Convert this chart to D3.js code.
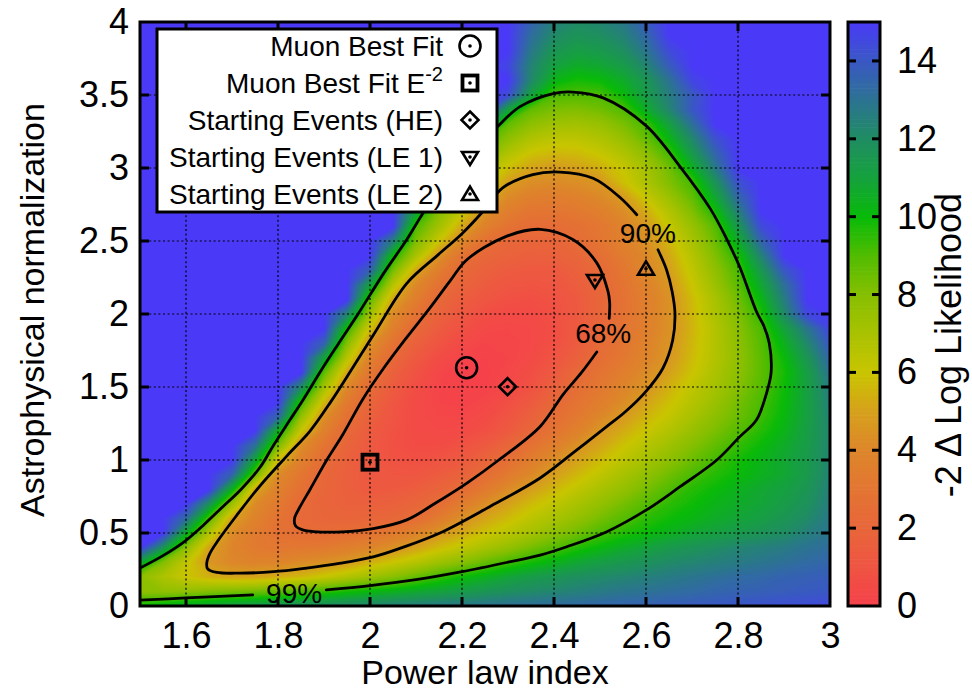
<!DOCTYPE html>
<html>
<head>
<meta charset="utf-8">
<script src="https://cdn.jsdelivr.net/npm/d3@7"></script>
<style>
  body { margin: 0; background: #fff; }
  svg { display: block; }
  text { font-family: "Liberation Sans", Arial, Helvetica, sans-serif; fill: #000; }
</style>
</head>
<body>
<svg id="chart" width="972" height="693"></svg>
<script>
// ---------------- data ----------------
const xTickValues = [1.6, 1.8, 2, 2.2, 2.4, 2.6, 2.8, 3];
const xTickLabels = ["1.6", "1.8", "2", "2.2", "2.4", "2.6", "2.8", "3"];
const yTickValues = [0, 0.5, 1, 1.5, 2, 2.5, 3, 3.5, 4];
const yTickLabels = ["0", "0.5", "1", "1.5", "2", "2.5", "3", "3.5", "4"];
const cbTickValues = [0, 2, 4, 6, 8, 10, 12, 14];
const cbTickLabels = ["0", "2", "4", "6", "8", "10", "12", "14"];

// grid of -2 Delta log likelihood (columns = power law index, rows = normalization, top row first)
const gridX = [1.50,1.55,1.60,1.65,1.70,1.75,1.80,1.85,1.90,1.95,2.00,2.05,2.10,2.15,2.20,2.25,2.30,2.35,2.40,2.45,2.50,2.55,2.60,2.65,2.70,2.75,2.80,2.85,2.90,2.95,3.00];
const gridY = [4.0,3.9,3.8,3.7,3.6,3.5,3.4,3.3,3.2,3.1,3.0,2.9,2.8,2.7,2.6,2.5,2.4,2.3,2.2,2.1,2.0,1.9,1.8,1.7,1.6,1.5,1.4,1.3,1.2,1.1,1.0,0.9,0.8,0.7,0.6,0.5,0.4,0.3,0.2,0.1,0.0];
const likelihoodRows = [
 [15,15,15,15,15,15,15,15,15,15,15,15,15,15,15,15,15,13.6,12.5,12.1,12.3,12.8,13.9,15,15,15,15,15,15,15,15],
 [15,15,15,15,15,15,15,15,15,15,15,15,15,15,15,15,15,13.2,12.1,11.7,11.9,12.4,13.4,14.9,15,15,15,15,15,15,15],
 [15,15,15,15,15,15,15,15,15,15,15,15,15,15,15,15,15,12.8,11.6,11.2,11.4,11.9,12.9,14.4,15,15,15,15,15,15,15],
 [15,15,15,15,15,15,15,15,15,15,15,15,15,15,15,15,14.6,12.4,11.1,10.6,10.8,11.3,12.3,13.8,15,15,15,15,15,15,15],
 [15,15,15,15,15,15,15,15,15,15,15,15,15,15,15,15,15,12.2,10.3,9.8,10.0,10.6,11.6,13.0,14.6,15,15,15,15,15,15],
 [15,15,15,15,15,15,15,15,15,15,15,15,15,15,15,15,14.4,11.1,9.1,9.0,9.1,10.0,11.3,12.6,13.9,15,15,15,15,15,15],
 [15,15,15,15,15,15,15,15,15,15,15,15,15,15,15,15,11.1,8.7,8.2,8.1,8.4,9.0,10.6,12.3,14.0,15,15,15,15,15,15],
 [15,15,15,15,15,15,15,15,15,15,15,15,15,15,15,12.1,8.7,7.8,7.3,7.2,7.5,8.2,9.2,11.1,13.1,15,15,15,15,15,15],
 [15,15,15,15,15,15,15,15,15,15,15,15,15,15,14.0,9.2,7.8,6.8,6.4,6.4,6.8,7.5,8.6,10.2,12.2,14.2,15,15,15,15,15],
 [15,15,15,15,15,15,15,15,15,15,15,15,15,15,11.1,8.1,6.8,5.9,5.6,5.7,6.1,6.8,7.8,9.2,11.4,13.5,15,15,15,15,15],
 [15,15,15,15,15,15,15,15,15,15,15,15,15,13.1,8.8,7.0,5.8,5.1,4.8,5.0,5.4,6.1,7.1,8.4,10.4,12.7,15,15,15,15,15],
 [15,15,15,15,15,15,15,15,15,15,15,15,15,10.4,8.0,6.5,4.9,4.3,4.2,4.3,4.6,5.8,6.9,8.1,9.2,11.7,14.2,15,15,15,15],
 [15,15,15,15,15,15,15,15,15,15,15,15,13.1,8.9,7.2,5.5,4.2,3.6,3.5,3.7,4.1,4.8,6.1,7.4,8.7,10.8,13.4,15,15,15,15],
 [15,15,15,15,15,15,15,15,15,15,15,15,11.0,8.0,6.2,4.5,3.5,3.0,3.0,3.2,3.6,4.2,5.3,6.7,8.1,9.8,12.5,15,15,15,15],
 [15,15,15,15,15,15,15,15,15,15,15,15,9.1,7.2,5.2,3.7,2.9,2.4,2.4,2.7,3.1,3.8,4.7,6.1,7.5,8.9,11.5,14.4,15,15,15],
 [15,15,15,15,15,15,15,15,15,15,15,12.6,8.2,6.0,4.1,2.8,2.1,2.0,2.0,2.4,3.0,3.7,4.4,5.6,7.0,8.5,10.6,13.5,15,15,15],
 [15,15,15,15,15,15,15,15,15,15,15,10.0,7.0,4.5,2.9,2.1,1.8,1.6,1.7,2.0,2.6,3.4,4.1,5.2,6.6,8.1,9.7,12.4,15,15,15],
 [15,15,15,15,15,15,15,15,15,15,13.7,8.3,5.2,3.5,2.2,1.7,1.4,1.3,1.3,1.7,2.3,3.1,4.0,4.9,6.3,7.7,9.1,11.5,14.0,15,15],
 [15,15,15,15,15,15,15,15,15,15,11.1,6.6,4.1,2.8,1.9,1.4,1.1,1.0,1.1,1.5,2.1,2.9,3.8,4.6,6.0,7.4,8.8,10.8,13.1,15,15],
 [15,15,15,15,15,15,15,15,15,15,8.8,5.1,3.5,2.2,1.5,1.1,0.8,0.7,0.9,1.3,2.0,2.8,3.6,4.4,5.7,7.0,8.4,10.2,12.6,15,15],
 [15,15,15,15,15,15,15,15,15,12.4,7.3,4.2,2.9,1.8,1.2,0.7,0.5,0.5,0.8,1.3,2.0,2.8,3.6,4.4,5.6,6.9,8.1,9.6,12.1,14.5,15],
 [15,15,15,15,15,15,15,15,15,9.7,5.8,3.6,2.2,1.4,0.8,0.4,0.3,0.4,0.7,1.3,2.0,2.9,3.6,4.4,5.5,6.7,7.9,9.1,11.0,12.9,14.6],
 [15,15,15,15,15,15,15,15,13.7,8.0,4.5,2.9,1.7,1.0,0.5,0.2,0.2,0.4,0.8,1.4,2.3,3.0,3.8,4.5,5.6,6.7,7.8,8.9,10.4,12.2,14.0],
 [15,15,15,15,15,15,15,15,11.1,6.6,3.8,2.2,1.3,0.6,0.2,0.1,0.2,0.5,1.0,1.7,2.5,3.2,3.9,4.6,5.7,6.7,7.7,8.8,10.0,11.6,13.5],
 [15,15,15,15,15,15,15,15,8.8,5.1,3.1,1.7,0.9,0.3,0.0,0.0,0.3,0.7,1.3,2.2,2.9,3.5,4.2,5.0,5.9,6.9,7.8,8.8,9.8,11.2,13.0],
 [15,15,15,15,15,15,15,12.2,7.2,4.1,2.4,1.4,0.7,0.2,0.1,0.1,0.4,0.9,1.7,2.5,3.2,3.9,4.5,5.4,6.3,7.1,8.0,8.9,9.9,11.1,12.7],
 [15,15,15,15,15,15,15,9.5,5.7,3.4,2.0,1.1,0.5,0.2,0.1,0.3,0.7,1.3,2.1,2.9,3.5,4.2,5.0,5.8,6.6,7.4,8.3,9.1,10.0,11.1,12.5],
 [15,15,15,15,15,15,13.6,7.7,4.4,2.8,1.7,1.0,0.5,0.3,0.3,0.5,1.0,1.7,2.5,3.2,4.0,4.7,5.5,6.2,7.0,7.8,8.5,9.3,10.1,11.1,12.4],
 [15,15,15,15,15,15,10.5,6.1,3.7,2.2,1.4,0.9,0.5,0.4,0.5,0.8,1.3,2.1,2.9,3.7,4.6,5.3,6.0,6.7,7.5,8.2,8.9,9.6,10.3,11.2,12.3],
 [15,15,15,15,15,13.1,8.3,4.3,3.0,1.9,1.3,0.8,0.6,0.6,0.9,1.3,2.0,2.8,3.6,4.4,5.1,5.9,6.6,7.3,8.0,8.7,9.4,10.0,10.6,11.3,12.3],
 [15,15,15,15,15,11.0,5.8,3.7,2.5,1.7,1.2,0.9,0.8,1.0,1.3,1.9,2.6,3.5,4.3,5.0,5.7,6.4,7.1,7.8,8.5,9.2,9.8,10.3,10.8,11.4,12.3],
 [15,15,15,15,13.6,8.6,4.2,3.1,2.1,1.6,1.2,1.1,1.1,1.4,1.8,2.5,3.3,4.1,4.9,5.6,6.3,7.0,7.7,8.4,9.1,9.6,10.0,10.4,10.8,11.4,12.4],
 [15,15,15,15,10.4,5.2,3.7,2.7,2.0,1.6,1.3,1.3,1.5,1.9,2.5,3.3,4.2,4.9,5.6,6.3,7.0,7.6,8.3,9.0,9.6,10.0,10.4,10.8,11.1,11.6,12.5],
 [15,15,15,11.9,7.4,4.2,3.3,2.3,1.9,1.7,1.6,1.7,2.0,2.5,3.4,4.3,5.0,5.7,6.3,7.0,7.6,8.3,8.9,9.5,9.9,10.3,10.6,10.9,11.3,11.8,12.6],
 [15,15,13.3,9.0,5.0,3.8,2.9,2.2,2.0,1.9,2.0,2.1,2.5,3.4,4.4,5.1,5.7,6.4,7.0,7.6,8.3,8.9,9.5,9.9,10.2,10.6,10.9,11.2,11.6,12.1,12.8],
 [15,15,10.7,6.8,4.2,3.4,2.8,2.5,2.4,2.6,2.8,3.3,3.8,4.6,5.2,5.9,6.5,7.1,7.8,8.4,9.1,9.6,10.0,10.4,10.8,11.1,11.4,11.7,12.0,12.5,12.9],
 [15,11.8,7.9,5.1,3.9,3.3,3.1,3.2,3.3,3.6,3.9,4.4,5.0,5.7,6.3,7.0,7.6,8.3,8.9,9.6,10.1,10.6,11.0,11.4,11.7,12.0,12.3,12.5,12.7,13.0,13.2],
 [11.0,8.1,6.3,4.6,4.0,3.8,3.9,4.2,4.4,4.7,5.4,6.0,6.6,7.3,7.9,8.6,9.2,9.8,10.3,10.8,11.2,11.5,11.8,12.1,12.3,12.5,12.7,12.9,13.1,13.3,13.5],
 [7.8,6.9,6.0,5.4,5.1,5.1,5.3,5.6,6.1,6.7,7.3,7.9,8.6,9.3,9.9,10.4,10.9,11.3,11.6,11.9,12.1,12.3,12.5,12.7,12.9,13.1,13.3,13.4,13.6,13.7,13.8],
 [7.7,7.7,7.7,8.0,8.2,8.4,8.7,9.0,9.4,9.8,10.1,10.4,10.7,11.0,11.3,11.6,11.9,12.1,12.3,12.5,12.7,12.9,13.0,13.2,13.3,13.5,13.6,13.7,13.8,13.9,14.0],
 [10.0,10.4,10.8,11.1,11.4,11.6,11.8,12.0,12.1,12.3,12.4,12.6,12.7,12.8,12.9,13.0,13.1,13.2,13.3,13.4,13.5,13.6,13.7,13.8,13.9,14.0,14.1,14.2,14.3,14.4,14.5]
];

// confidence contours [power law index, normalization]
const contour68 = [[2.52,1.97],[2.521,2.08],[2.517,2.16],[2.493,2.35],[2.441,2.51],[2.37,2.58],[2.295,2.53],[2.21,2.37],[2.175,2.23],[2.13,2.04],[2.08,1.84],[2.03,1.63],[1.985,1.42],[1.94,1.17],[1.906,1.0],[1.87,0.80],[1.848,0.68],[1.836,0.60],[1.838,0.55],[1.855,0.52],[1.877,0.51],[1.94,0.508],[2.007,0.53],[2.08,0.59],[2.14,0.70],[2.21,0.84],[2.28,1.0],[2.37,1.23],[2.42,1.45],[2.46,1.60],[2.493,1.74]];
const contour90 = [[2.626,2.44],[2.645,2.30],[2.657,2.15],[2.663,2.0],[2.658,1.82],[2.637,1.63],[2.60,1.47],[2.555,1.33],[2.515,1.23],[2.442,1.05],[2.37,0.877],[2.26,0.68],[2.152,0.50],[2.07,0.40],[2.007,0.336],[1.93,0.29],[1.862,0.26],[1.79,0.235],[1.717,0.225],[1.667,0.23],[1.647,0.255],[1.645,0.29],[1.652,0.36],[1.67,0.45],[1.71,0.62],[1.76,0.82],[1.82,1.03],[1.87,1.20],[1.915,1.40],[1.96,1.62],[2.01,1.87],[2.08,2.21],[2.146,2.40],[2.20,2.55],[2.245,2.70],[2.289,2.865],[2.354,2.955],[2.413,2.972],[2.485,2.93],[2.543,2.80],[2.58,2.68]];
const contour99 = [[1.905,0.11],[2.0,0.14],[2.1,0.18],[2.2,0.235],[2.3,0.30],[2.37,0.349],[2.428,0.406],[2.515,0.509],[2.601,0.658],[2.674,0.817],[2.754,1.0],[2.804,1.16],[2.840,1.274],[2.862,1.457],[2.872,1.60],[2.868,1.80],[2.856,1.92],[2.841,2.01],[2.804,2.32],[2.776,2.51],[2.74,2.72],[2.674,3.01],[2.60,3.29],[2.507,3.48],[2.441,3.52],[2.398,3.51],[2.326,3.42],[2.276,3.28],[2.22,3.10],[2.16,2.90],[2.113,2.68],[2.08,2.51],[2.03,2.28],[1.974,2.0],[1.93,1.79],[1.895,1.62],[1.854,1.41],[1.825,1.27],[1.79,1.10],[1.761,0.95],[1.72,0.80],[1.68,0.68],[1.64,0.56],[1.598,0.445],[1.55,0.345],[1.5,0.26]];
const contour99Tail = [[1.745,0.076],[1.6,0.055],[1.5,0.04]];
const contourLabelText = ["68%", "90%", "99%"];
const contourLabelX = [2.507, 2.604, 1.835];
const contourLabelY = [1.87, 2.555, 0.09];

// fit points
const pointNames = ["Muon Best Fit", "Muon Best Fit E", "Starting Events (HE)", "Starting Events (LE 1)", "Starting Events (LE 2)"];
const pointIndex = [2.21, 2.0, 2.299, 2.489, 2.60];
const pointNorm = [1.632, 0.985, 1.502, 2.233, 2.31];
const pointShapes = ["circle", "square", "diamond", "triangleDown", "triangleUp"];

// colour palette
const paletteStops = [0, 1, 2, 3, 4, 5, 6, 7, 8, 9, 10, 11, 12, 13, 14, 15];
const paletteColors = ["#f6404b","#ef5442","#e8663a","#e37532","#dd862a","#d6a01c","#c9c500","#a9c200","#86bf00","#52bc00","#08ba08","#15a23d","#1f8d62","#2c7392","#3a58c4","#4a3af8"];

// ---------------- drawing ----------------
const svg = d3.select("#chart");
const L = 140, R = 830, T = 22, B = 606;
const x = d3.scaleLinear().domain([1.5, 3]).range([L, R]);
const y = d3.scaleLinear().domain([0, 4]).range([B, T]);
const zc = d3.scaleLinear().domain([0, 15]).range([B, T]);
const color = d3.scaleLinear().domain(paletteStops).range(paletteColors).clamp(true);

svg.append("defs").append("clipPath").attr("id", "plotClip")
  .append("rect").attr("x", L).attr("y", T).attr("width", R - L).attr("height", B - T);

// heat map as filled iso-bands
const nx = gridX.length, ny = gridY.length;
const values = likelihoodRows.flat();
const thresholds = d3.range(0, 151).map(i => i / 10);
const bands = d3.contours().size([nx, ny]).thresholds(thresholds)(values);
const stepX = gridX[1] - gridX[0], stepY = gridY[1] - gridY[0];
const gridProjection = d3.geoTransform({
  point(px, py) {
    this.stream.point(x(gridX[0] + (px - 0.5) * stepX), y(gridY[0] + (py - 0.5) * stepY));
  }
});
const bandPath = d3.geoPath(gridProjection);
svg.append("g").attr("clip-path", "url(#plotClip)")
  .selectAll("path").data(bands).join("path")
  .attr("d", bandPath)
  .attr("fill", d => color(Math.min(d.value + 0.05, 15)));

// dotted grid
const grid = svg.append("g").attr("stroke", "#000").attr("stroke-width", 1.2).attr("stroke-dasharray", "2,2.6");
xTickValues.filter(v => v > 1.5 && v < 3).forEach(v => {
  grid.append("line").attr("x1", x(v)).attr("x2", x(v)).attr("y1", T).attr("y2", B);
});
yTickValues.filter(v => v > 0 && v < 4).forEach(v => {
  grid.append("line").attr("x1", L).attr("x2", R).attr("y1", y(v)).attr("y2", y(v));
});

// contour lines
const line = d3.line().x(d => x(d[0])).y(d => y(d[1])).curve(d3.curveCatmullRom.alpha(0.5));
const cg = svg.append("g").attr("clip-path", "url(#plotClip)").attr("fill", "none").attr("stroke", "#000").attr("stroke-width", 2.8).attr("stroke-linecap", "round");
[contour68, contour90, contour99, contour99Tail].forEach(c => cg.append("path").attr("d", line(c)));

contourLabelText.forEach((t, i) => {
  svg.append("text").attr("x", x(contourLabelX[i])).attr("y", y(contourLabelY[i]) + 10)
    .attr("text-anchor", "middle").attr("font-size", 28).text(t);
});

// markers
function drawMarker(g, shape, cx, cy) {
  const s = g.append("g").attr("fill", "none").attr("stroke", "#000").attr("stroke-width", 2.6).attr("stroke-linejoin", "miter");
  if (shape === "circle") s.append("circle").attr("cx", cx).attr("cy", cy).attr("r", 10.5);
  else if (shape === "square") s.append("rect").attr("x", cx - 7.5).attr("y", cy - 7.5).attr("width", 15).attr("height", 15).attr("stroke-width", 3.8);
  else if (shape === "diamond") s.append("path").attr("d", `M${cx},${cy - 8.5}L${cx + 8.5},${cy}L${cx},${cy + 8.5}L${cx - 8.5},${cy}Z`);
  else if (shape === "triangleDown") s.append("path").attr("d", `M${cx - 8},${cy - 5}L${cx + 8},${cy - 5}L${cx},${cy + 8}Z`);
  else if (shape === "triangleUp") s.append("path").attr("d", `M${cx - 8},${cy + 6}L${cx + 8},${cy + 6}L${cx},${cy - 7.5}Z`);
  g.append("circle").attr("cx", cx).attr("cy", cy).attr("r", 1.8).attr("fill", "#000");
}
const mg = svg.append("g");
pointShapes.forEach((s, i) => drawMarker(mg, s, x(pointIndex[i]), y(pointNorm[i])));

// frame
svg.append("rect").attr("x", L).attr("y", T).attr("width", R - L).attr("height", B - T)
  .attr("fill", "none").attr("stroke", "#000").attr("stroke-width", 3);

// inner ticks on all four sides
const tk = svg.append("g").attr("stroke", "#000").attr("stroke-width", 3);
xTickValues.filter(v => v > 1.5 && v < 3).forEach(v => {
  tk.append("line").attr("x1", x(v)).attr("x2", x(v)).attr("y1", B).attr("y2", B - 9);
  tk.append("line").attr("x1", x(v)).attr("x2", x(v)).attr("y1", T).attr("y2", T + 9);
});
yTickValues.filter(v => v > 0 && v < 4).forEach(v => {
  tk.append("line").attr("x1", L).attr("x2", L + 9).attr("y1", y(v)).attr("y2", y(v));
  tk.append("line").attr("x1", R).attr("x2", R - 9).attr("y1", y(v)).attr("y2", y(v));
});

// axes labels via d3 axes
const xAxis = svg.append("g").attr("transform", `translate(0,${B})`)
  .call(d3.axisBottom(x).tickValues(xTickValues).tickFormat((d, i) => xTickLabels[i]).tickSize(0).tickPadding(16));
const yAxis = svg.append("g").attr("transform", `translate(${L},0)`)
  .call(d3.axisLeft(y).tickValues(yTickValues).tickFormat((d, i) => yTickLabels[i]).tickSize(0).tickPadding(11));
[xAxis, yAxis].forEach(a => {
  a.select(".domain").remove();
  a.selectAll("text").attr("font-size", 36).attr("font-family", "'Liberation Sans', Arial, sans-serif").attr("fill", "#000");
});

svg.append("text").attr("x", (L + R) / 2).attr("y", 684).attr("text-anchor", "middle").attr("font-size", 34).text("Power law index");
svg.append("text").attr("transform", `translate(44,${(T + B) / 2 - 4}) rotate(-90)`).attr("text-anchor", "middle").attr("font-size", 34).text("Astrophysical normalization");

// colour bar
const cbL = 848, cbR = 880;
const cb = svg.append("g");
d3.range(0, 150).forEach(i => {
  const v0 = i / 10, v1 = (i + 1) / 10;
  cb.append("rect").attr("x", cbL).attr("width", cbR - cbL)
    .attr("y", zc(v1)).attr("height", zc(v0) - zc(v1) + 0.6)
    .attr("fill", color((v0 + v1) / 2));
});
const cbt = svg.append("g").attr("stroke", "#000").attr("stroke-width", 3);
cbTickValues.filter(v => v > 0).forEach(v => {
  cbt.append("line").attr("x1", cbL).attr("x2", cbL + 8).attr("y1", zc(v)).attr("y2", zc(v));
  cbt.append("line").attr("x1", cbR).attr("x2", cbR - 8).attr("y1", zc(v)).attr("y2", zc(v));
});
svg.append("rect").attr("x", cbL).attr("y", T).attr("width", cbR - cbL).attr("height", B - T)
  .attr("fill", "none").attr("stroke", "#000").attr("stroke-width", 3);
const cAxis = svg.append("g").attr("transform", `translate(${cbR},0)`)
  .call(d3.axisRight(zc).tickValues(cbTickValues).tickFormat((d, i) => cbTickLabels[i]).tickSize(0).tickPadding(17));
cAxis.select(".domain").remove();
cAxis.selectAll("text").attr("font-size", 36).attr("font-family", "'Liberation Sans', Arial, sans-serif").attr("fill", "#000");
svg.append("text").attr("transform", `translate(961,345) rotate(-90)`).attr("text-anchor", "middle").attr("font-size", 36).text("-2 \u0394 Log Likelihood");

// legend
const lg = svg.append("g");
lg.append("rect").attr("x", 157).attr("y", 29).attr("width", 340).attr("height", 183)
  .attr("fill", "#fff").attr("stroke", "#000").attr("stroke-width", 3);
pointNames.forEach((name, i) => {
  const baseY = 55.5 + i * 37;
  const t = lg.append("text").attr("x", 443).attr("y", baseY).attr("text-anchor", "end").attr("font-size", 28);
  t.append("tspan").text(name);
  if (i === 1) t.append("tspan").attr("dy", -12).attr("font-size", 20).text("-2");
  drawMarker(lg, pointShapes[i], 470, baseY - 9.5);
});
</script>
</body>
</html>
